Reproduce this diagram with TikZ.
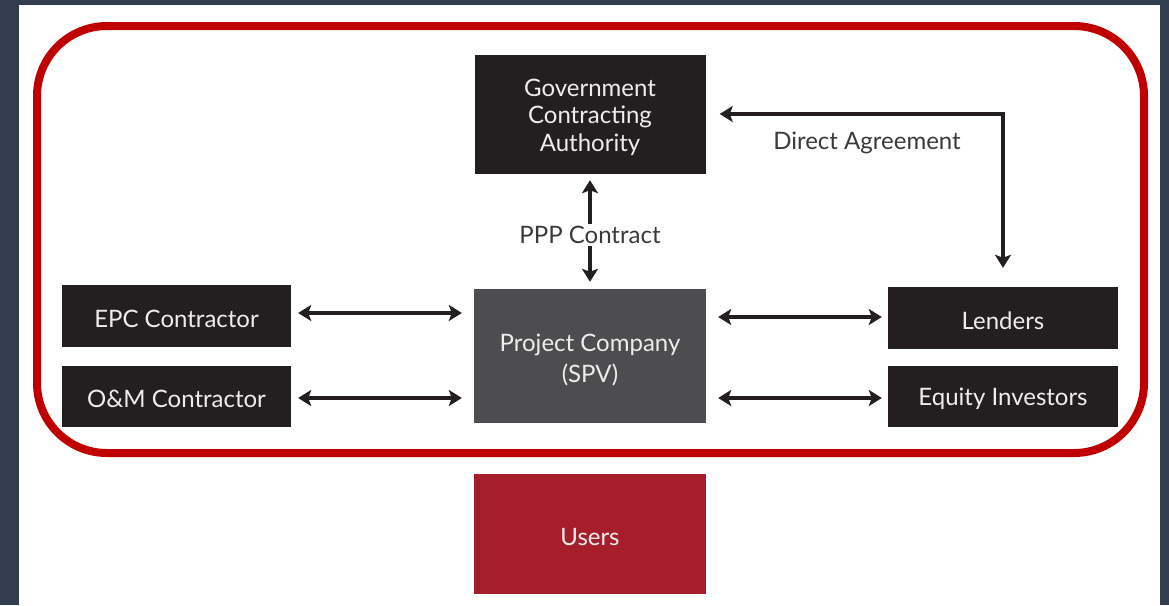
\documentclass[tikz,border=0pt]{standalone}
\usepackage{fontspec}
\setmainfont{Lato}
\usetikzlibrary{arrows.meta}
\definecolor{slate}{HTML}{323E50}
\definecolor{boxdark}{HTML}{231F20}
\definecolor{boxgrey}{HTML}{4D4D4F}
\definecolor{usersred}{HTML}{A61E2A}
\definecolor{frame}{HTML}{C00000}
\definecolor{boxtext}{HTML}{EDEDED}
\definecolor{labeltext}{HTML}{3A3A3A}
\tikzset{
  box/.style={fill=boxdark, draw=none, inner sep=0pt},
  boxlab/.style={text=boxtext, font=\fontsize{24}{27.5}\selectfont, align=center, inner sep=0pt, yshift=-2.5pt},
  txt/.style={label={[boxlab]center:#1}},
  arr/.style={draw=boxdark, line width=3.2pt, -{Stealth[length=13pt,width=16pt,inset=3pt]}},
  biarr/.style={draw=boxdark, line width=3.2pt, {Stealth[length=13pt,width=16pt,inset=3pt]}-{Stealth[length=13pt,width=16pt,inset=3pt]}},
  lbl/.style={text=labeltext, font=\fontsize{24}{27.5}\selectfont, inner sep=2pt}
}
\begin{document}
\begin{tikzpicture}[x=1pt,y=-1pt]
\useasboundingbox (0,0) rectangle (1169,605);
\fill[slate] (0,0) rectangle (1169,605);
\fill[white] (19,5) rectangle (1160,605);
\draw[frame, line width=8pt, rounded corners=70pt] (37,26) rectangle (1144,453);
% nodes
\node[box, minimum width=231pt, minimum height=119pt, txt={Government\\Contracting\\Authority}] (gov) at (590,114.5) {};
\node[box, fill=boxgrey, minimum width=232pt, minimum height=134pt,
  label={[boxlab, font=\fontsize{24}{31}\selectfont, yshift=-1pt]center:Project Company\\(SPV)}] (pc) at (590,356) {};
\node[box, minimum width=229pt, minimum height=62pt, txt={EPC Contractor}] (epc) at (176.5,316) {};
\node[box, minimum width=229pt, minimum height=61pt, txt={O\&M Contractor}] (om) at (176.5,396.5) {};
\node[box, minimum width=230pt, minimum height=62pt, txt={Lenders}] (lend) at (1003,318) {};
\node[box, minimum width=230pt, minimum height=61pt, txt={Equity Investors}] (eq) at (1003,396.5) {};
\node[box, fill=usersred, minimum width=232pt, minimum height=120pt, txt={Users}] (users) at (590,534) {};
% labels
\node[lbl] (ppp) at (590,235) {PPP Contract};
\node[lbl] (da) at (867,143) {Direct Agreement};
% connectors
\draw[arr, shorten >=6pt] (ppp.north) -- (gov.south);
\draw[arr, shorten >=7pt] (ppp.south) -- (pc.north);
\coordinate (corner) at (1003,114);
\draw[arr, shorten >=14pt] ([xshift=1.6pt]corner) -- (corner -| gov.east);
\draw[arr, shorten >=19pt] (corner) -- (lend.north);
\draw[biarr, shorten <=7pt, shorten >=12pt] ([yshift=3pt]epc.east) -- ([yshift=3pt]epc.east -| pc.west);
\draw[biarr, shorten <=7pt, shorten >=12pt] ([yshift=-1.5pt]om.east) -- ([yshift=-1.5pt]om.east -| pc.west);
\draw[biarr, shorten <=12pt, shorten >=6pt] ([yshift=1pt]lend.west -| pc.east) -- ([yshift=1pt]lend.west);
\draw[biarr, shorten <=12pt, shorten >=6pt] ([yshift=-1.5pt]eq.west -| pc.east) -- ([yshift=-1.5pt]eq.west);
\end{tikzpicture}
\end{document}
